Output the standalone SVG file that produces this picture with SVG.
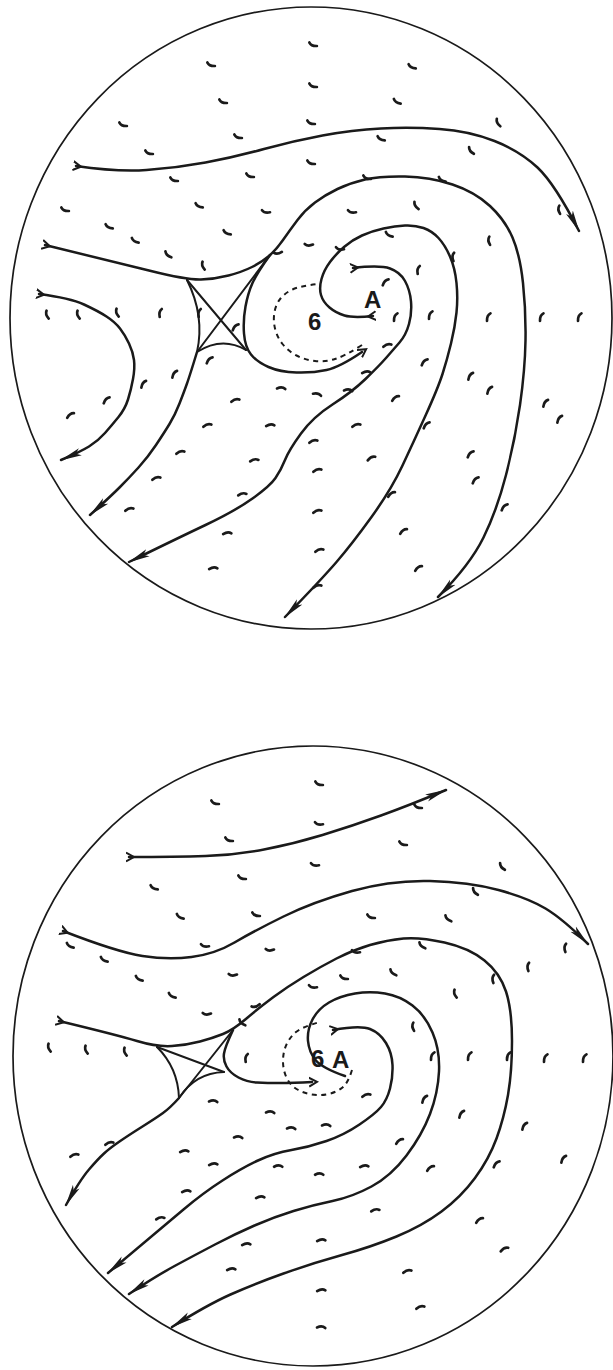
<svg xmlns="http://www.w3.org/2000/svg" width="613" height="1370" viewBox="0 0 613 1370">
<style>
.bd{fill:none;stroke:#1a1a1a;stroke-width:1.7}
.sl{fill:none;stroke:#1a1a1a;stroke-width:2.5;stroke-linecap:round;stroke-linejoin:round}
.xl{fill:none;stroke:#1a1a1a;stroke-width:2;stroke-linecap:round}
.ds{fill:none;stroke:#1a1a1a;stroke-width:2;stroke-dasharray:5 4.5}
.mk{fill:none;stroke:#1a1a1a;stroke-width:2.7;stroke-linecap:round;stroke-linejoin:round}
.lb{font-family:"Liberation Sans",Arial,sans-serif;font-weight:bold;fill:#1a1a1a}
</style>
<defs>
<marker id="ah" markerUnits="userSpaceOnUse" markerWidth="22" markerHeight="10" viewBox="0 0 22 10" refX="21" refY="5" orient="auto"><path d="M0,1.2 L22,5 L0,8.8 L5,5 Z" fill="#1a1a1a"/></marker>
<marker id="tl" markerUnits="userSpaceOnUse" markerWidth="12" markerHeight="12" viewBox="0 0 12 12" refX="3" refY="6" orient="auto"><path d="M0,1.5 L8,6 L0,10.5" fill="none" stroke="#1a1a1a" stroke-width="2"/></marker>
<path id="mk" class="mk" d="M-4,-1.8 Q-1.5,1.5 4,0.3"/>
</defs>

<g id="top-panel">
<ellipse class="bd" cx="311" cy="318" rx="301" ry="311"/>
<g id="top-streamlines">
<path class="sl" marker-start="url(#tl)" marker-end="url(#ah)" d="M76,166 Q117,172 146.5,170 Q176,168 205.5,162.5 Q235,157 264,149 Q293,141 322.5,135.5 Q352,130 381,128.5 Q410,127 439.5,129 Q469,131 494.5,141 Q520,151 537.5,167.5 Q555,184 579,231"/>
<path class="sl" marker-start="url(#tl)" marker-end="url(#ah)" d="M45,245 Q115,262 151,271 Q187,280 201,279.5 Q215,279 228.5,275.5 Q242,272 252,267 Q262,262 269,256 Q276,250 283,240 Q290,230 297.5,220 Q305,210 315,202.5 Q325,195 337.5,189 Q350,183 365,179.5 Q380,176 405,176.5 Q430,177 452.5,184.5 Q475,192 490,206 Q505,220 512.5,237.5 Q520,255 523,283 Q526,311 525.5,340.5 Q525,370 520,405 Q515,440 506,475 Q497,510 483.5,537.5 Q470,565 438,597"/>
<path class="sl" marker-start="url(#tl)" marker-end="url(#ah)" d="M373,316 Q353,318 344.5,315.5 Q336,313 329.5,307.5 Q323,302 321,295 Q319,288 321.5,279 Q324,270 330,262 Q336,254 344,247 Q352,240 362,235.5 Q372,231 383.5,228.5 Q395,226 405,225.5 Q415,225 423.5,228 Q432,231 438.5,238 Q445,245 450,256.5 Q455,268 456.5,283 Q458,298 456.5,312.5 Q455,327 451,343.5 Q447,360 442.5,374 Q438,388 426,414.5 Q414,441 402.5,465.5 Q391,490 371.5,517 Q352,544 336.5,562 Q321,580 285,617"/>
<path class="sl" marker-start="url(#tl)" marker-end="url(#ah)" d="M353,268 Q380,265 390,268.5 Q400,272 405,281 Q410,290 411,301.5 Q412,313 409,324 Q406,335 399.5,342.5 Q393,350 386,358 Q379,366 365.5,379 Q352,392 332.5,404.5 Q313,417 301,433.5 Q289,450 285,460 Q281,470 275.5,478 Q270,486 252.5,498.5 Q235,511 205.5,525 Q176,539 129,562"/>
<path class="sl" marker-end="url(#tl)" d="M270,255 Q257,273 252.5,283 Q248,293 245.5,306.5 Q243,320 244,333.5 Q245,347 251,354.5 Q257,362 268.5,367 Q280,372 296.5,372.5 Q313,373 326.5,370 Q340,367 362,352"/>
<path class="sl" marker-end="url(#ah)" d="M197,352 Q190,375 187,383.5 Q184,392 179.5,403.5 Q175,415 169.5,424 Q164,433 156,445 Q148,457 138.5,467.5 Q129,478 119.5,487.5 Q110,497 90,515"/>
<path class="sl" marker-start="url(#tl)" marker-end="url(#ah)" d="M39,294 Q70,298 84,304.5 Q98,311 106.5,316.5 Q115,322 120,328.5 Q125,335 129,343.5 Q133,352 134,360 Q135,368 133,379 Q131,390 128,399.5 Q125,409 118.5,417 Q112,425 105,433 Q98,441 89,446.5 Q80,452 61,460"/>
<path class="xl" d="M187,280 Q205,316 197,352"/>
<path class="xl" d="M197,352 Q222,336 246,350"/>
<path class="xl" d="M187,280 L246,350"/>
<path class="xl" d="M197,352 L270,255"/>
<path class="ds" d="M362,345 Q345,356 335,359 Q325,362 315,361 Q305,360 296.5,355.5 Q288,351 282.5,344 Q277,337 275,328.5 Q273,320 274.5,312 Q276,304 280.5,298.5 Q285,293 292.5,289.5 Q300,286 318,284"/>
</g>
<g id="top-labels">
<text class="lb" x="308" y="330" font-size="24" font-weight="normal">6</text>
<text class="lb" x="364" y="308" font-size="24">A</text>
</g>
<g id="top-marks">
<use href="#mk" transform="translate(313,45) rotate(10)"/>
<use href="#mk" transform="translate(211,65) rotate(10)"/>
<use href="#mk" transform="translate(412,67) rotate(15)"/>
<use href="#mk" transform="translate(313,86) rotate(10)"/>
<use href="#mk" transform="translate(223,102) rotate(10)"/>
<use href="#mk" transform="translate(397,102) rotate(20)"/>
<use href="#mk" transform="translate(123,125) rotate(10)"/>
<use href="#mk" transform="translate(311,123) rotate(10)"/>
<use href="#mk" transform="translate(498,123) rotate(50)"/>
<use href="#mk" transform="translate(238,137) rotate(10)"/>
<use href="#mk" transform="translate(381,139) rotate(15)"/>
<use href="#mk" transform="translate(149,153) rotate(10)"/>
<use href="#mk" transform="translate(311,163) rotate(10)"/>
<use href="#mk" transform="translate(471,151) rotate(40)"/>
<use href="#mk" transform="translate(174,180) rotate(10)"/>
<use href="#mk" transform="translate(250,176) rotate(10)"/>
<use href="#mk" transform="translate(367,178) rotate(10)"/>
<use href="#mk" transform="translate(442,180) rotate(20)"/>
<use href="#mk" transform="translate(65,210) rotate(10)"/>
<use href="#mk" transform="translate(109,227) rotate(15)"/>
<use href="#mk" transform="translate(199,206) rotate(15)"/>
<use href="#mk" transform="translate(266,212) rotate(0)"/>
<use href="#mk" transform="translate(352,212) rotate(0)"/>
<use href="#mk" transform="translate(416,206) rotate(45)"/>
<use href="#mk" transform="translate(559,210) rotate(70)"/>
<use href="#mk" transform="translate(135,241) rotate(20)"/>
<use href="#mk" transform="translate(227,233) rotate(15)"/>
<use href="#mk" transform="translate(309,245) rotate(-10)"/>
<use href="#mk" transform="translate(389,235) rotate(20)"/>
<use href="#mk" transform="translate(489,241) rotate(70)"/>
<use href="#mk" transform="translate(453,257) rotate(80)"/>
<use href="#mk" transform="translate(168,255) rotate(30)"/>
<use href="#mk" transform="translate(278,253) rotate(-20)"/>
<use href="#mk" transform="translate(340,249) rotate(0)"/>
<use href="#mk" transform="translate(203,266) rotate(60)"/>
<use href="#mk" transform="translate(418,270) rotate(90)"/>
<use href="#mk" transform="translate(47,315) rotate(60)"/>
<use href="#mk" transform="translate(78,315) rotate(60)"/>
<use href="#mk" transform="translate(117,313) rotate(60)"/>
<use href="#mk" transform="translate(160,313) rotate(90)"/>
<use href="#mk" transform="translate(199,313) rotate(90)"/>
<use href="#mk" transform="translate(235,327) rotate(120)"/>
<use href="#mk" transform="translate(385,282) rotate(120)"/>
<use href="#mk" transform="translate(395,317) rotate(100)"/>
<use href="#mk" transform="translate(430,315) rotate(100)"/>
<use href="#mk" transform="translate(488,317) rotate(100)"/>
<use href="#mk" transform="translate(541,317) rotate(100)"/>
<use href="#mk" transform="translate(579,317) rotate(100)"/>
<use href="#mk" transform="translate(387,345) rotate(150)"/>
<use href="#mk" transform="translate(366,372) rotate(160)"/>
<use href="#mk" transform="translate(424,362) rotate(120)"/>
<use href="#mk" transform="translate(470,376) rotate(110)"/>
<use href="#mk" transform="translate(143,384) rotate(110)"/>
<use href="#mk" transform="translate(174,374) rotate(110)"/>
<use href="#mk" transform="translate(209,360) rotate(120)"/>
<use href="#mk" transform="translate(281,388) rotate(170)"/>
<use href="#mk" transform="translate(317,394) rotate(180)"/>
<use href="#mk" transform="translate(348,390) rotate(170)"/>
<use href="#mk" transform="translate(235,400) rotate(150)"/>
<use href="#mk" transform="translate(395,398) rotate(130)"/>
<use href="#mk" transform="translate(489,390) rotate(110)"/>
<use href="#mk" transform="translate(545,403) rotate(110)"/>
<use href="#mk" transform="translate(106,400) rotate(120)"/>
<use href="#mk" transform="translate(70,415) rotate(130)"/>
<use href="#mk" transform="translate(207,425) rotate(150)"/>
<use href="#mk" transform="translate(270,425) rotate(160)"/>
<use href="#mk" transform="translate(356,425) rotate(150)"/>
<use href="#mk" transform="translate(426,425) rotate(120)"/>
<use href="#mk" transform="translate(559,419) rotate(110)"/>
<use href="#mk" transform="translate(180,452) rotate(150)"/>
<use href="#mk" transform="translate(313,441) rotate(150)"/>
<use href="#mk" transform="translate(371,458) rotate(140)"/>
<use href="#mk" transform="translate(470,454) rotate(120)"/>
<use href="#mk" transform="translate(254,460) rotate(155)"/>
<use href="#mk" transform="translate(156,478) rotate(150)"/>
<use href="#mk" transform="translate(317,470) rotate(150)"/>
<use href="#mk" transform="translate(391,494) rotate(130)"/>
<use href="#mk" transform="translate(475,480) rotate(120)"/>
<use href="#mk" transform="translate(129,509) rotate(150)"/>
<use href="#mk" transform="translate(242,494) rotate(155)"/>
<use href="#mk" transform="translate(317,511) rotate(150)"/>
<use href="#mk" transform="translate(504,507) rotate(120)"/>
<use href="#mk" transform="translate(227,533) rotate(160)"/>
<use href="#mk" transform="translate(319,550) rotate(150)"/>
<use href="#mk" transform="translate(403,531) rotate(130)"/>
<use href="#mk" transform="translate(418,568) rotate(130)"/>
<use href="#mk" transform="translate(213,568) rotate(160)"/>
<use href="#mk" transform="translate(317,586) rotate(150)"/>
</g>
</g>

<g id="bottom-panel">
<ellipse class="bd" cx="313" cy="1056" rx="300" ry="310"/>
<g id="bottom-streamlines">
<path class="sl" marker-start="url(#tl)" marker-end="url(#ah)" d="M129,857 Q176,857 205.5,856 Q235,855 264,849.5 Q293,844 322.5,835 Q352,826 381,815.5 Q410,805 446,790"/>
<path class="sl" marker-start="url(#tl)" marker-end="url(#ah)" d="M63,931 Q117,952 142.5,956 Q168,960 191.5,957 Q215,954 234.5,942.5 Q254,931 283.5,916.5 Q313,902 352,891 Q391,880 430,881 Q469,882 498.5,890 Q528,898 545.5,908.5 Q563,919 588,944"/>
<path class="sl" marker-start="url(#tl)" marker-end="url(#ah)" d="M59,1021 Q117,1035 137,1041 Q157,1047 172,1046 Q187,1045 200,1041.5 Q213,1038 223,1034 Q233,1030 246.5,1018.5 Q260,1007 273.5,997 Q287,987 303.5,977 Q320,967 336.5,958.5 Q353,950 370,945 Q387,940 403.5,938.5 Q420,937 444.5,942.5 Q469,948 484.5,960.5 Q500,973 506,991.5 Q512,1010 512,1041 Q512,1072 508,1095 Q504,1118 496.5,1138.5 Q489,1159 475,1178 Q461,1197 441.5,1211.5 Q422,1226 396.5,1236.5 Q371,1247 342,1255 Q313,1263 283.5,1273.5 Q254,1284 230.5,1294.5 Q207,1305 172,1327"/>
<path class="sl" marker-end="url(#ah)" d="M345,1076 Q322,1068 315.5,1060 Q309,1052 308,1041 Q307,1030 312.5,1019.5 Q318,1009 329,1002.5 Q340,996 355,993.5 Q370,991 385,993.5 Q400,996 412.5,1005.5 Q425,1015 432.5,1032.5 Q440,1050 439,1071.5 Q438,1093 430,1114 Q422,1135 406.5,1155.5 Q391,1176 371.5,1186.5 Q352,1197 332.5,1201 Q313,1205 293.5,1211 Q274,1217 254.5,1225.5 Q235,1234 215,1244.5 Q195,1255 175.5,1265.5 Q156,1276 129,1294"/>
<path class="sl" marker-start="url(#tl)" marker-end="url(#ah)" d="M333,1030 Q360,1025 370,1029 Q380,1033 386,1043 Q392,1053 392.5,1065 Q393,1077 390,1088.5 Q387,1100 381,1107 Q375,1114 359.5,1124.5 Q344,1135 326.5,1141 Q309,1147 291.5,1150 Q274,1153 258,1160.5 Q242,1168 222.5,1180.5 Q203,1193 183.5,1209.5 Q164,1226 108,1273"/>
<path class="sl" marker-end="url(#tl)" d="M233,1030 Q225,1047 224,1053.5 Q223,1060 226.5,1066.5 Q230,1073 238.5,1077.5 Q247,1082 257,1082.5 Q267,1083 280,1083 Q293,1083 312,1082"/>
<path class="sl" marker-end="url(#ah)" d="M179,1098 Q170,1108 163,1113 Q156,1118 142.5,1126.5 Q129,1135 119.5,1141.5 Q110,1148 104,1153.5 Q98,1159 89,1169.5 Q80,1180 66,1205"/>
<path class="xl" d="M157,1047 Q178,1068 179,1098"/>
<path class="xl" d="M179,1098 Q195,1073 224,1072"/>
<path class="xl" d="M157,1047 L224,1072"/>
<path class="xl" d="M179,1098 L233,1030"/>
<path class="ds" d="M352,1070 Q348,1083 342.5,1087.5 Q337,1092 328.5,1094 Q320,1096 311.5,1094.5 Q303,1093 296.5,1089 Q290,1085 286.5,1077.5 Q283,1070 283,1061 Q283,1052 286.5,1044.5 Q290,1037 296,1032 Q302,1027 320,1022"/>
</g>
<g id="bottom-labels">
<text class="lb" x="311" y="1067" font-size="24">6</text>
<text class="lb" x="332" y="1068" font-size="24">A</text>
</g>
<g id="bottom-marks">
<use href="#mk" transform="translate(319,784) rotate(10)"/>
<use href="#mk" transform="translate(215,803) rotate(10)"/>
<use href="#mk" transform="translate(418,807) rotate(10)"/>
<use href="#mk" transform="translate(319,824) rotate(0)"/>
<use href="#mk" transform="translate(229,840) rotate(10)"/>
<use href="#mk" transform="translate(403,844) rotate(10)"/>
<use href="#mk" transform="translate(315,865) rotate(0)"/>
<use href="#mk" transform="translate(242,878) rotate(10)"/>
<use href="#mk" transform="translate(502,867) rotate(40)"/>
<use href="#mk" transform="translate(154,888) rotate(15)"/>
<use href="#mk" transform="translate(475,892) rotate(40)"/>
<use href="#mk" transform="translate(180,917) rotate(20)"/>
<use href="#mk" transform="translate(256,915) rotate(10)"/>
<use href="#mk" transform="translate(371,917) rotate(10)"/>
<use href="#mk" transform="translate(448,919) rotate(30)"/>
<use href="#mk" transform="translate(70,946) rotate(20)"/>
<use href="#mk" transform="translate(104,960) rotate(20)"/>
<use href="#mk" transform="translate(205,946) rotate(0)"/>
<use href="#mk" transform="translate(270,950) rotate(-10)"/>
<use href="#mk" transform="translate(422,946) rotate(30)"/>
<use href="#mk" transform="translate(565,948) rotate(80)"/>
<use href="#mk" transform="translate(139,979) rotate(20)"/>
<use href="#mk" transform="translate(233,975) rotate(-10)"/>
<use href="#mk" transform="translate(356,952) rotate(0)"/>
<use href="#mk" transform="translate(393,973) rotate(30)"/>
<use href="#mk" transform="translate(493,979) rotate(80)"/>
<use href="#mk" transform="translate(528,967) rotate(80)"/>
<use href="#mk" transform="translate(172,996) rotate(20)"/>
<use href="#mk" transform="translate(207,1014) rotate(-10)"/>
<use href="#mk" transform="translate(256,1006) rotate(-30)"/>
<use href="#mk" transform="translate(313,987) rotate(0)"/>
<use href="#mk" transform="translate(344,978) rotate(10)"/>
<use href="#mk" transform="translate(455,994) rotate(60)"/>
<use href="#mk" transform="translate(49,1048) rotate(60)"/>
<use href="#mk" transform="translate(86,1050) rotate(60)"/>
<use href="#mk" transform="translate(125,1052) rotate(60)"/>
<use href="#mk" transform="translate(242,1023) rotate(30)"/>
<use href="#mk" transform="translate(246,1058) rotate(90)"/>
<use href="#mk" transform="translate(413,1027) rotate(70)"/>
<use href="#mk" transform="translate(432,1056) rotate(100)"/>
<use href="#mk" transform="translate(469,1056) rotate(100)"/>
<use href="#mk" transform="translate(508,1056) rotate(100)"/>
<use href="#mk" transform="translate(545,1058) rotate(100)"/>
<use href="#mk" transform="translate(584,1058) rotate(100)"/>
<use href="#mk" transform="translate(424,1099) rotate(110)"/>
<use href="#mk" transform="translate(461,1114) rotate(110)"/>
<use href="#mk" transform="translate(213,1101) rotate(170)"/>
<use href="#mk" transform="translate(270,1112) rotate(170)"/>
<use href="#mk" transform="translate(366,1095) rotate(150)"/>
<use href="#mk" transform="translate(524,1126) rotate(110)"/>
<use href="#mk" transform="translate(563,1159) rotate(110)"/>
<use href="#mk" transform="translate(74,1155) rotate(150)"/>
<use href="#mk" transform="translate(109,1143) rotate(150)"/>
<use href="#mk" transform="translate(184,1151) rotate(160)"/>
<use href="#mk" transform="translate(238,1137) rotate(170)"/>
<use href="#mk" transform="translate(291,1128) rotate(170)"/>
<use href="#mk" transform="translate(326,1125) rotate(170)"/>
<use href="#mk" transform="translate(399,1141) rotate(130)"/>
<use href="#mk" transform="translate(430,1168) rotate(130)"/>
<use href="#mk" transform="translate(213,1164) rotate(160)"/>
<use href="#mk" transform="translate(278,1166) rotate(165)"/>
<use href="#mk" transform="translate(319,1174) rotate(165)"/>
<use href="#mk" transform="translate(364,1166) rotate(160)"/>
<use href="#mk" transform="translate(496,1164) rotate(120)"/>
<use href="#mk" transform="translate(186,1191) rotate(160)"/>
<use href="#mk" transform="translate(260,1197) rotate(160)"/>
<use href="#mk" transform="translate(375,1210) rotate(155)"/>
<use href="#mk" transform="translate(479,1220) rotate(130)"/>
<use href="#mk" transform="translate(160,1218) rotate(155)"/>
<use href="#mk" transform="translate(246,1244) rotate(160)"/>
<use href="#mk" transform="translate(321,1240) rotate(160)"/>
<use href="#mk" transform="translate(504,1249) rotate(140)"/>
<use href="#mk" transform="translate(231,1269) rotate(160)"/>
<use href="#mk" transform="translate(407,1271) rotate(150)"/>
<use href="#mk" transform="translate(321,1290) rotate(160)"/>
<use href="#mk" transform="translate(420,1307) rotate(150)"/>
<use href="#mk" transform="translate(321,1327) rotate(170)"/>
</g>
</g>
</svg>
